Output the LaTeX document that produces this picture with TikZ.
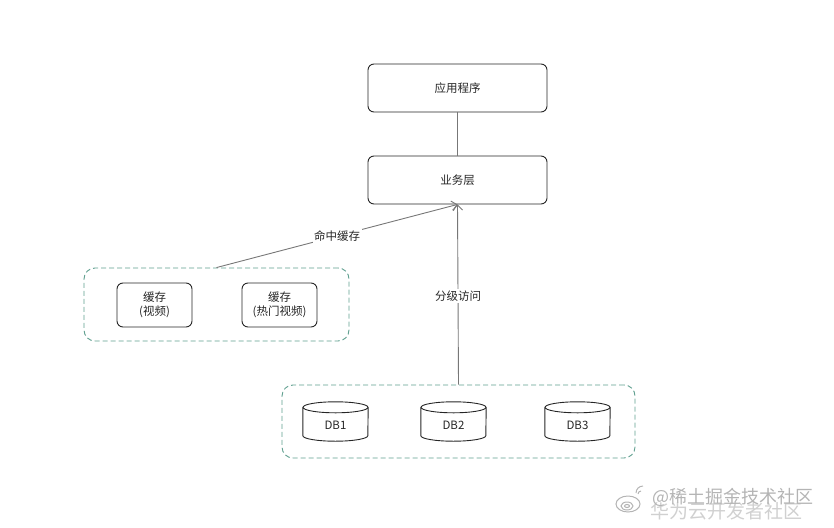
\documentclass[tikz,border=0pt]{standalone}
\usepackage{fontspec}
\setmainfont{Noto Sans CJK SC}
\usetikzlibrary{arrows.meta,calc}
\definecolor{dashgreen}{HTML}{5E9E8E}
\definecolor{linegray}{HTML}{777777}
\definecolor{wmgray}{HTML}{D0D0D0}
\definecolor{wmdark}{HTML}{B4B4B4}
\newcommand\dbcyl[1]{%
  \draw[dbline] ($(#1.north west)+(0,5.5)$) -- ($(#1.south west)+(0,-5.5)$)
     arc[start angle=180,end angle=360,x radius=32.5pt,y radius=5.5pt]
     -- ($(#1.north east)+(0,5.5)$);
  \draw[dbline] ($(#1.north)+(0,5.5)$) ellipse[x radius=32.5pt,y radius=5.5pt];}
\begin{document}
\begin{tikzpicture}[x=1pt,y=-1pt,font=\fontsize{11.5}{14}\selectfont,
  box/.style={draw=black!85,rounded corners=6pt,line width=0.9pt,fill=white,text=black!85,align=center,inner sep=0pt},
  grp/.style={draw=dashgreen,dash pattern=on 5pt off 3pt,rounded corners=11pt,line width=0.9pt,inner sep=0pt},
  dbtext/.style={minimum width=65pt,minimum height=39pt,inner sep=0pt,text=black!85},
  dbline/.style={draw=black!85,line width=0.9pt},
  conn/.style={draw=linegray,line width=0.9pt},
  arr/.style={conn,-{Straight Barb[length=5pt,width=10pt,line width=0.9pt]}},
  lbl/.style={fill=white,inner sep=1.5pt,text=black!85}]
\useasboundingbox (0,0) rectangle (834,527);
% top boxes
\node[box,minimum width=179pt,minimum height=48pt] (app) at (457.5,88) {应用程序};
\node[box,minimum width=179pt,minimum height=48pt] (biz) at (457.5,180) {业务层};
\draw[conn] (app.south) -- (biz.north);
% cache group
\node[grp,minimum width=265pt,minimum height=73pt] (cachegrp) at (216.5,304.5) {};
\node[box,minimum width=75pt,minimum height=44pt] (cv) at (154.5,305) {缓存\\(视频)};
\node[box,minimum width=75pt,minimum height=44pt] (ch) at (279.5,305) {缓存\\(热门视频)};
% db group
\node[grp,minimum width=353pt,minimum height=73pt] (dbgrp) at (458.5,421.5) {};
\node[dbtext] (db1) at (335.5,421.5) {};
\node[dbtext] (db2) at (453.5,421.5) {};
\node[dbtext] (db3) at (577.5,421.5) {};
\dbcyl{db1}\dbcyl{db2}\dbcyl{db3}
\node[text=black!85] at ($(db1.center)+(0,4)$) {DB1};
\node[text=black!85] at ($(db2.center)+(0,4)$) {DB2};
\node[text=black!85] at ($(db3.center)+(0,4)$) {DB3};
% connectors
\draw[arr] (cachegrp.north) -- node[lbl,pos=0.5] {命中缓存} (biz.south);
\draw[arr] (dbgrp.north) -- node[lbl,pos=0.49] {分级访问} (biz.south);
% watermark
\begin{scope}[wmdark,line width=1pt]
  \draw (628,504) ellipse[x radius=12pt,y radius=8pt];
  \draw (627,506) ellipse[x radius=6pt,y radius=4pt];
  \draw (627,506) ellipse[x radius=2.5pt,y radius=1.5pt];
  \draw (636,493) arc[start angle=180,end angle=90,radius=7pt];
  \draw (638,494) arc[start angle=180,end angle=90,radius=3pt];
\end{scope}
\node[text=wmgray,anchor=west,inner sep=0pt,font=\fontsize{19}{21}\selectfont] (wm2) at (650,511) {华为云开发者社区};
\node[text=wmdark,anchor=west,inner sep=0pt,font=\fontsize{18}{20}\selectfont] (wm1) at (652,497) {@稀土掘金技术社区};
\end{tikzpicture}
\end{document}
